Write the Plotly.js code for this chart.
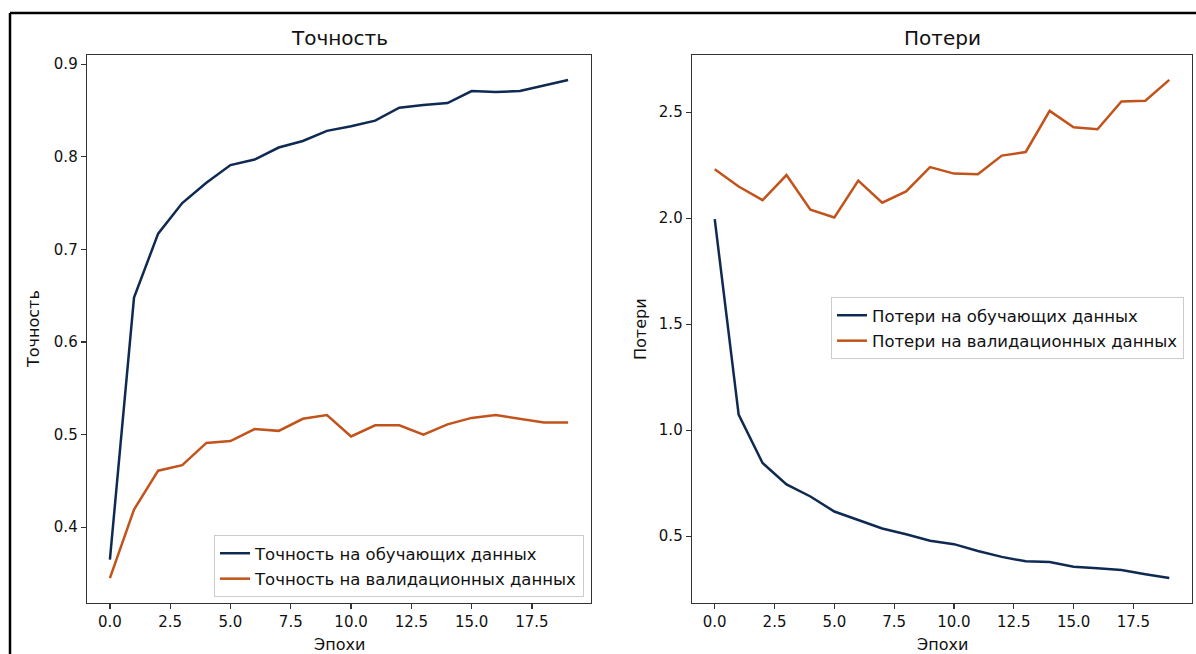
<!DOCTYPE html>
<html>
<head>
<meta charset="utf-8">
<script src="https://cdn.plot.ly/plotly-3.0.1.min.js"></script>
<style>html,body{margin:0;padding:0;background:#fff;}#chart{width:1196px;height:654px;}</style>
</head>
<body>
<div id="chart"></div>
<script>
// Data
const epochs = [0,1,2,3,4,5,6,7,8,9,10,11,12,13,14,15,16,17,18,19];
const trainAcc = [0.365,0.648,0.717,0.750,0.772,0.791,0.797,0.810,0.817,0.828,0.833,0.839,0.853,0.856,0.858,0.871,0.870,0.871,0.877,0.883];
const valAcc = [0.345,0.419,0.461,0.467,0.491,0.493,0.506,0.504,0.517,0.521,0.498,0.510,0.510,0.500,0.511,0.518,0.521,0.517,0.513,0.513];
const trainLoss = [1.995,1.073,0.845,0.744,0.687,0.616,0.576,0.536,0.509,0.478,0.462,0.430,0.402,0.381,0.378,0.356,0.348,0.340,0.320,0.302];
const valLoss = [2.231,2.149,2.085,2.203,2.040,2.003,2.177,2.073,2.126,2.241,2.210,2.207,2.295,2.312,2.506,2.429,2.419,2.550,2.554,2.652];

const labels = {
  accTitle: 'Точность', lossTitle: 'Потери', xTitle: 'Эпохи',
  trainAcc: 'Точность на обучающих данных', valAcc: 'Точность на валидационных данных',
  trainLoss: 'Потери на обучающих данных', valLoss: 'Потери на валидационных данных'
};

const NAVY = '#0f2a52', ORANGE = '#c1531b';
const FONT = 'DejaVu Sans, sans-serif';

function padRange(arrs){
  const all = [].concat(...arrs);
  const mn = Math.min(...all), mx = Math.max(...all), d = (mx-mn)*0.05;
  return [mn-d, mx+d];
}

const traces = [
  {x: epochs, y: trainAcc, name: labels.trainAcc, xaxis:'x', yaxis:'y', legend:'legend', legendgroup:'a', mode:'lines', line:{color:NAVY, width:2.5}},
  {x: epochs, y: valAcc, name: labels.valAcc, xaxis:'x', yaxis:'y', legend:'legend', legendgroup:'b', mode:'lines', line:{color:ORANGE, width:2.5}},
  {x: epochs, y: trainLoss, name: labels.trainLoss, xaxis:'x2', yaxis:'y2', legend:'legend2', legendgroup:'c', mode:'lines', line:{color:NAVY, width:2.5}},
  {x: epochs, y: valLoss, name: labels.valLoss, xaxis:'x2', yaxis:'y2', legend:'legend2', legendgroup:'d', mode:'lines', line:{color:ORANGE, width:2.5}}
];

const W = 1196, H = 654;
const px = v => v / W, py = v => 1 - v / H;

const axisCommon = {
  showline: true, mirror: true, linecolor: '#333', linewidth: 1.3,
  ticks: 'outside', ticklen: 5, tickwidth: 1.2, tickcolor: '#333',
  showgrid: false, zeroline: false,
  tickfont: {family: FONT, size: 15, color: '#111'}
};

function ann(text, x, y, size, angle){
  const a = {text, xref:'paper', yref:'paper', x: px(x), y: py(y), xanchor:'center', yanchor:'middle',
             showarrow:false, font:{family:FONT, size, color:'#111'}};
  if (angle) a.textangle = angle;
  return a;
}

const xr = padRange([epochs]);
const legendCommon = {bgcolor:'rgba(255,255,255,0.85)', bordercolor:'#cccccc', borderwidth:1,
  font:{family:FONT, size:16.5, color:'#111'}, tracegroupgap:1, traceorder:'grouped'};

const layout = {
  width: W, height: H,
  margin: {l:0, r:0, t:0, b:0},
  paper_bgcolor: '#fff', plot_bgcolor: '#fff',
  font: {family: FONT, color: '#111'},
  xaxis: Object.assign({}, axisCommon, {domain:[px(87), px(591)], range: xr, tick0:0, dtick:2.5, tickformat:'.1f', anchor:'y'}),
  yaxis: Object.assign({}, axisCommon, {domain:[py(603), py(55)], range: padRange([trainAcc, valAcc]), dtick:0.1, tickformat:'.1f', anchor:'x'}),
  xaxis2: Object.assign({}, axisCommon, {domain:[px(692), px(1192)], range: xr, tick0:0, dtick:2.5, tickformat:'.1f', anchor:'y2'}),
  yaxis2: Object.assign({}, axisCommon, {domain:[py(603), py(55)], range: padRange([trainLoss, valLoss]), dtick:0.5, tickformat:'.1f', anchor:'x2'}),
  legend: Object.assign({}, legendCommon, {x: px(584), y: py(597), xanchor:'right', yanchor:'bottom'}),
  legend2: Object.assign({}, legendCommon, {x: px(1184), y: py(297), xanchor:'right', yanchor:'top'}),
  showlegend: true,
  annotations: [
    ann(labels.accTitle, 339, 38, 20),
    ann(labels.lossTitle, 942, 38, 20),
    ann(labels.xTitle, 339, 644, 16),
    ann(labels.xTitle, 942, 644, 16),
    ann(labels.accTitle, 33, 329, 16, -90),
    ann(labels.lossTitle, 640, 329, 16, -90)
  ],
  shapes: [
    {type:'line', xref:'paper', yref:'paper', x0: px(10), x1: 1, y0: py(13), y1: py(13), line:{color:'#000', width:2.5}},
    {type:'line', xref:'paper', yref:'paper', x0: px(10), x1: px(10), y0: py(13), y1: 0, line:{color:'#000', width:2.5}}
  ]
};

Plotly.newPlot('chart', traces, layout, {displayModeBar:false, staticPlot:true});
</script>
</body>
</html>
